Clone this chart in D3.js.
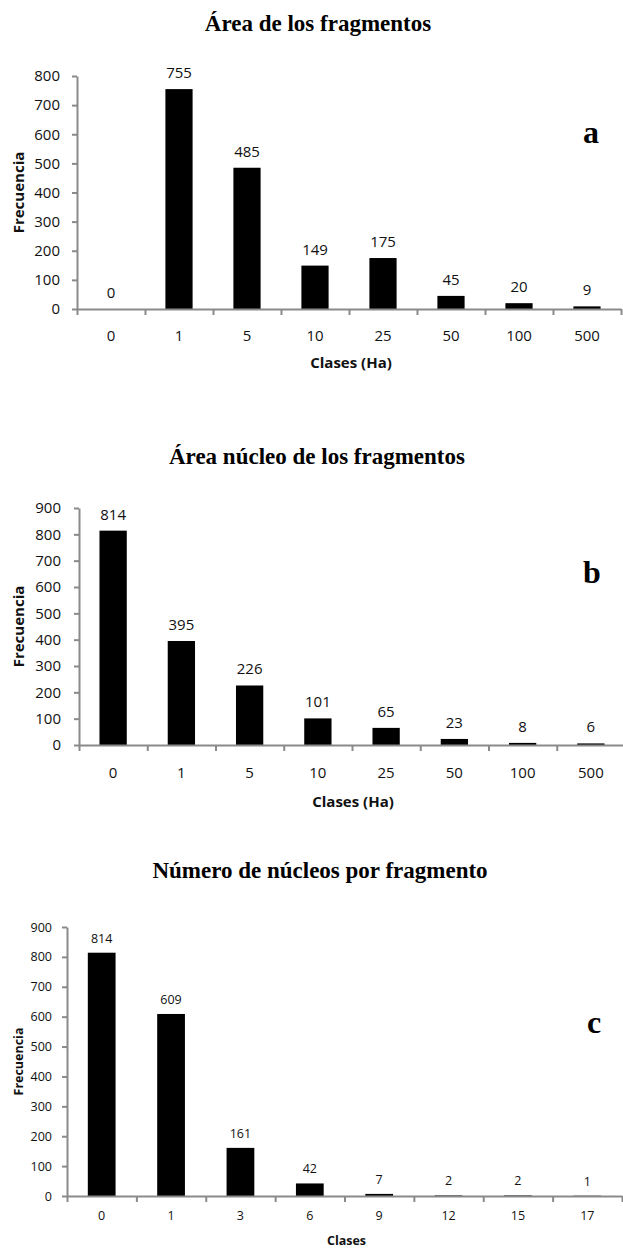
<!DOCTYPE html>
<html>
<head>
<meta charset="utf-8">
<script src="https://cdn.jsdelivr.net/npm/d3@7"></script>
<style>
  body { margin: 0; background: #fff; }
  svg { display: block; }
</style>
</head>
<body>
<script>
// Datos de los tres histogramas
const clasesHa = ["0", "1", "5", "10", "25", "50", "100", "500"];
const areaFragmentos = [0, 755, 485, 149, 175, 45, 20, 9];
const areaNucleo = [814, 395, 226, 101, 65, 23, 8, 6];
const clasesNucleos = ["0", "1", "3", "6", "9", "12", "15", "17"];
const nucleosPorFragmento = [814, 609, 161, 42, 7, 2, 2, 1];
const ticks800 = [0, 100, 200, 300, 400, 500, 600, 700, 800];
const ticks900 = [0, 100, 200, 300, 400, 500, 600, 700, 800, 900];

const width = 623;
const height = 1249;
const sans = "'Open Sans', 'DejaVu Sans', sans-serif";
const serif = "'Liberation Serif', 'Times New Roman', serif";
const axisColor = "#8a8a8a";

const panels = [
  {
    title: "Área de los fragmentos", titleX: 318, titleY: 31,
    letter: "a", letterX: 591, letterY: 143,
    cats: clasesHa, values: areaFragmentos, ticks: ticks800, yMax: 800,
    left: 77, right: 621, top: 76, bottom: 309,
    xTitle: "Clases (Ha)", xTitleY: 368, tickLabelY: 341,
    font: 15, valueGap: 11, yLabelX: 24, pad: 12,
  },
  {
    title: "Área núcleo de los fragmentos", titleX: 317, titleY: 464,
    letter: "b", letterX: 592, letterY: 583,
    cats: clasesHa, values: areaNucleo, ticks: ticks900, yMax: 900,
    left: 79, right: 625, top: 508, bottom: 745,
    xTitle: "Clases (Ha)", xTitleY: 807, tickLabelY: 778,
    font: 15, valueGap: 11, yLabelX: 24, pad: 13,
  },
  {
    title: "Número de núcleos por fragmento", titleX: 320, titleY: 878,
    letter: "c", letterX: 594, letterY: 1033,
    cats: clasesNucleos, values: nucleosPorFragmento, ticks: ticks900, yMax: 900,
    left: 67, right: 622, top: 927, bottom: 1196,
    xTitle: "Clases", xTitleY: 1245, tickLabelY: 1220,
    font: 12.5, valueGap: 10, yLabelX: 23, pad: 10,
  },
];

const svg = d3
  .select("body")
  .append("svg")
  .attr("width", width)
  .attr("height", height);

function drawPanel(p) {
  const g = svg.append("g");

  const x = d3
    .scaleBand()
    .domain(p.cats)
    .range([p.left, p.right])
    .paddingInner(0.6)
    .paddingOuter(0.3);

  const y = d3.scaleLinear().domain([0, p.yMax]).range([p.bottom, p.top]);

  // Titulo
  g.append("text")
    .attr("x", p.titleX)
    .attr("y", p.titleY)
    .attr("text-anchor", "middle")
    .style("font-family", serif)
    .style("font-weight", "bold")
    .style("font-size", "23px")
    .text(p.title);

  // Letra del panel
  g.append("text")
    .attr("x", p.letterX)
    .attr("y", p.letterY)
    .attr("text-anchor", "middle")
    .style("font-family", serif)
    .style("font-weight", "bold")
    .style("font-size", "32px")
    .text(p.letter);

  // Barras
  g.selectAll(".bar")
    .data(p.values)
    .enter()
    .append("rect")
    .attr("class", "bar")
    .attr("x", (d, i) => x(p.cats[i]))
    .attr("width", x.bandwidth())
    .attr("y", (d) => y(d))
    .attr("height", (d) => p.bottom - y(d))
    .attr("fill", "#000");

  // Etiquetas de valor
  g.selectAll(".val")
    .data(p.values)
    .enter()
    .append("text")
    .attr("class", "val")
    .attr("x", (d, i) => x(p.cats[i]) + x.bandwidth() / 2)
    .attr("y", (d) => y(d) - p.valueGap)
    .attr("text-anchor", "middle")
    .style("font-family", sans)
    .style("font-size", p.font + "px")
    .style("fill", "#111")
    .text((d) => d);

  // Eje Y
  const yAxis = g
    .append("g")
    .attr("transform", `translate(${p.left},0)`)
    .call(d3.axisLeft(y).tickValues(p.ticks).tickSize(5).tickSizeOuter(0).tickPadding(p.pad));

  // Eje X: marcas entre categorias
  const xEdges = d3.scaleLinear().domain([0, p.cats.length]).range([p.left, p.right]);
  const xAxis = g
    .append("g")
    .attr("transform", `translate(0,${p.bottom})`)
    .call(
      d3.axisBottom(xEdges)
        .tickValues(d3.range(p.cats.length + 1))
        .tickSize(6)
        .tickSizeOuter(0)
        .tickFormat("")
    );

  [yAxis, xAxis].forEach((a) => {
    a.select(".domain").attr("stroke", axisColor).attr("stroke-width", 2);
    a.selectAll(".tick line").attr("stroke", axisColor).attr("stroke-width", 2);
    a.selectAll(".tick text")
      .style("font-family", sans)
      .style("font-size", p.font + "px")
      .style("fill", "#111");
  });

  // Etiquetas de categorias
  g.selectAll(".cat")
    .data(p.cats)
    .enter()
    .append("text")
    .attr("class", "cat")
    .attr("x", (d) => x(d) + x.bandwidth() / 2)
    .attr("y", p.tickLabelY)
    .attr("text-anchor", "middle")
    .style("font-family", sans)
    .style("font-size", p.font + "px")
    .style("fill", "#111")
    .text((d) => d);

  // Titulos de ejes
  g.append("text")
    .attr("x", (p.left + Math.min(p.right, width)) / 2 + 2)
    .attr("y", p.xTitleY)
    .attr("text-anchor", "middle")
    .style("font-family", sans)
    .style("font-weight", "bold")
    .style("font-size", p.font + "px")
    .style("fill", "#111")
    .text(p.xTitle);

  g.append("text")
    .attr("transform", `translate(${p.yLabelX},${(p.top + p.bottom) / 2}) rotate(-90)`)
    .attr("text-anchor", "middle")
    .style("font-family", sans)
    .style("font-weight", "bold")
    .style("font-size", p.font + "px")
    .style("fill", "#111")
    .text("Frecuencia");
}

panels.forEach(drawPanel);
</script>
</body>
</html>
